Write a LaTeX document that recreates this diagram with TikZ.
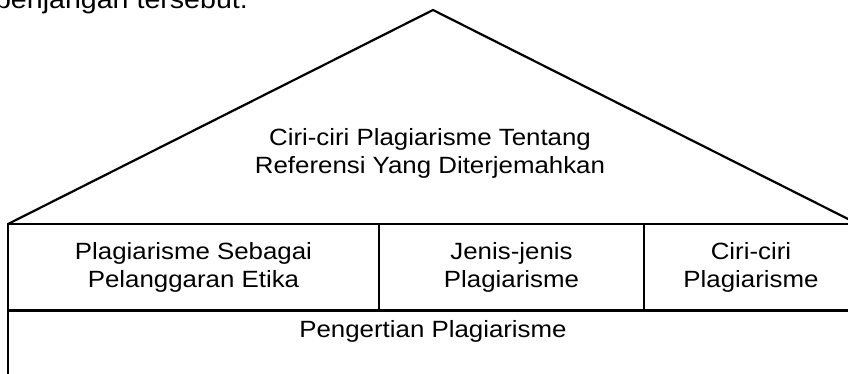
\documentclass[tikz,border=0pt]{standalone}
\usepackage{fontspec}
\setmainfont[FakeStretch=1.1]{Liberation Sans}
\newcommand{\rumahfont}{\fontsize{23.5}{28}\selectfont}

\begin{document}
\begin{tikzpicture}[x=1pt, y=-1pt, line width=2.2pt, line join=miter]
        \useasboundingbox (0,0) rectangle (848,373);
        \clip (0,0) rectangle (848,373);

        % sisa kalimat di atas gambar
        \node (lanjutan) [anchor=base east, inner sep=0pt, font=\fontsize{26}{30}\selectfont] at (249,8) {penjangan tersebut.};

        % atap
        \coordinate (atapkiri) at (8,224);
        \coordinate (puncak) at (433,10);
        \coordinate (atapkanan) at (858,224);
        \draw (atapkiri) -- (puncak) -- (atapkanan);
        \node (ciriref) [align=center, font=\rumahfont] at (430,153) {Ciri-ciri Plagiarisme Tentang\\Referensi Yang Diterjemahkan};

        \begin{scope}[every node/.style={rectangle, draw, align=center, font=\rumahfont, minimum height=86pt, inner sep=0pt}]
            \node (sebagai) [minimum width=371pt] at (193.5,267) {Plagiarisme Sebagai\\Pelanggaran Etika};
            \node (jenis) [minimum width=265pt] at (511.5,267) {Jenis-jenis\\Plagiarisme};
            \node (ciri) [minimum width=214pt] at (751,267) {Ciri-ciri\\Plagiarisme};
            \node (pengertian) [anchor=north, minimum width=850pt, minimum height=0pt, inner ysep=9pt, text depth=60pt] at (433,310) {Pengertian Plagiarisme};
        \end{scope}
    \end{tikzpicture}
\end{document}
